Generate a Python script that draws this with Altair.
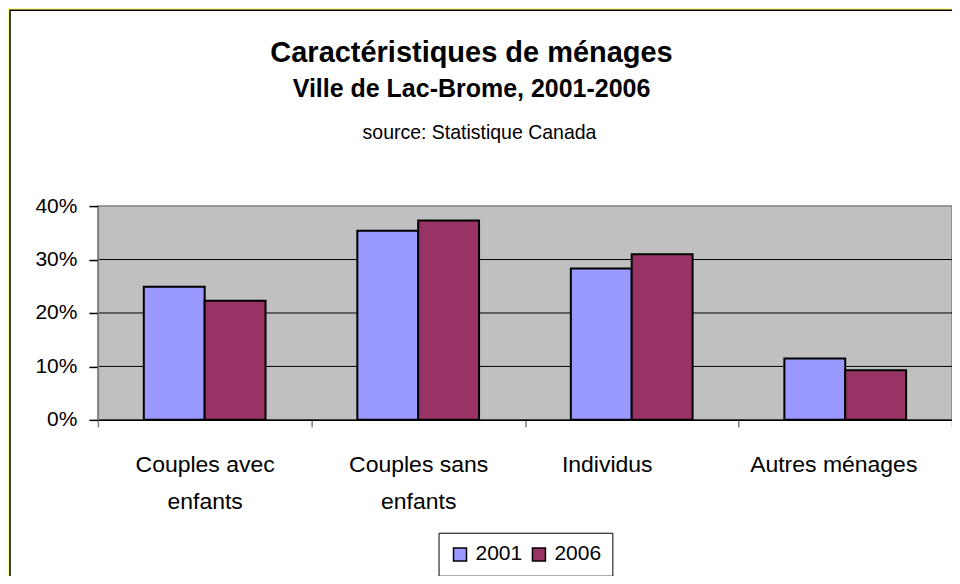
import altair as alt
import pandas as pd

# ---- data ----
categories = ["Couples avec enfants", "Couples sans enfants", "Individus", "Autres ménages"]
years = ["2001", "2006"]
values_2001 = [0.249, 0.354, 0.283, 0.115]
values_2006 = [0.223, 0.373, 0.310, 0.093]
y_ticks = [0, 0.1, 0.2, 0.3, 0.4]
colors = ["#9999FF", "#993366"]

title_text = "Caractéristiques de ménages"
subtitle_text = "Ville de Lac-Brome, 2001-2006"
source_text = "source: Statistique Canada"

rows = []
for c, a, b in zip(categories, values_2001, values_2006):
    rows.append({"categorie": c, "annee": years[0], "part": a})
    rows.append({"categorie": c, "annee": years[1], "part": b})
df = pd.DataFrame(rows)
grid_df = pd.DataFrame({"part": y_ticks[1:-1]})

W, H = 855, 214
FONT = "Liberation Sans"

x_scale = alt.Scale(domain=categories, paddingInner=0, paddingOuter=0)
y_scale = alt.Scale(domain=[0, 0.4], nice=False)

y_axis = alt.Axis(
    title=None, values=y_ticks, format=".0%", labelFontSize=21, labelFont=FONT,
    labelColor="black", tickSize=9, tickColor="black", tickWidth=1.5,
    domainColor="#808080", domainWidth=1.5, labelPadding=12, grid=False, zindex=1,
)
x_axis = alt.Axis(
    title=None, labelAngle=0,
    labelExpr="split(replace(datum.label, ' enfants', '|enfants'), '|')",
    labelFontSize=23, labelFont=FONT, labelColor="black", labelLineHeight=37,
    labelPadding=27, labelLimit=400, tickBand="extent", tickSize=7,
    tickColor="#808080", tickWidth=1.5, domainColor="black", domainWidth=1.5,
    grid=False, zindex=1,
    labelOffset={"condition": [
        {"test": "datum.value === 'Individus'", "value": -25},
        {"test": "datum.value === 'Autres ménages'", "value": -12},
    ], "value": 0},
)

one = alt.Data(values=[{}])

panel = alt.Chart(one).mark_rect(fill="white", stroke="black", strokeWidth=1.5).encode(
    x=alt.value(-88), x2=alt.value(W + 60), y=alt.value(-196), y2=alt.value(H + 200)
)

plot_bg = alt.Chart(one).mark_rect(fill="#C0C0C0", stroke="#808080", strokeWidth=1.5).encode(
    x=alt.value(0), x2=alt.value(W), y=alt.value(0), y2=alt.value(H)
)

grid = alt.Chart(grid_df).mark_rule(color="black", strokeWidth=1).encode(
    y=alt.Y("part:Q", scale=y_scale, axis=y_axis),
    x=alt.value(0), x2=alt.value(W),
)

bars = alt.Chart(df).mark_bar(stroke="black", strokeWidth=2).encode(
    x=alt.X("categorie:N", scale=x_scale, sort=categories, axis=x_axis),
    xOffset=alt.XOffset("annee:N", sort=years,
                        scale=alt.Scale(paddingOuter=0.754, paddingInner=0)),
    y=alt.Y("part:Q", scale=y_scale, axis=y_axis),
    color=alt.Color(
        "annee:N",
        scale=alt.Scale(domain=years, range=colors),
        legend=alt.Legend(
            title=None, orient="none", legendX=341, legendY=327,
            direction="horizontal", strokeColor="black", fillColor="white",
            padding=11, symbolType="square", symbolSize=169,
            symbolStrokeColor="black", symbolStrokeWidth=1.5,
            labelFontSize=21, labelFont=FONT, labelColor="black",
            labelOffset=5, columnPadding=6, zindex=1,
        ),
    ),
)


def heading(text, x, y, size, weight):
    return alt.Chart(alt.Data(values=[{"t": text}])).mark_text(
        font=FONT, fontSize=size, fontWeight=weight, align="center",
        baseline="alphabetic", color="black",
    ).encode(x=alt.value(x), y=alt.value(y), text="t:N")


t1 = heading(title_text, 374, -144, 29, "bold")
t2 = heading(subtitle_text, 374, -109, 25, "bold")
t3 = heading(source_text, 382, -67, 19.5, "normal")

chart = alt.layer(panel, plot_bg, grid, bars, t1, t2, t3).properties(
    width=W, height=H, background="#FFFF99",
    padding={"left": 90, "top": 198, "right": 0, "bottom": 156},
    autosize=alt.AutoSizeParams(type="none"),
).configure_view(strokeWidth=0)

chart.save("out.html", embed_options={"renderer": "svg", "actions": False})
